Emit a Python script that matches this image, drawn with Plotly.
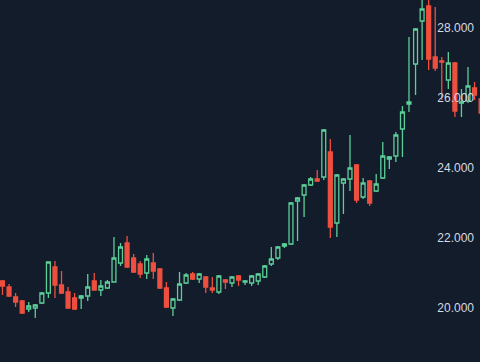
import plotly.graph_objects as go

# OHLC values
opens = [20.771, 20.600, 20.314, 20.200, 19.971, 20.000, 20.143, 20.429, 21.171, 20.657,
         20.457, 20.286, 20.286, 20.343, 20.771, 20.514, 20.571, 20.743, 21.286, 21.857,
         21.429, 21.257, 21.000, 21.286, 21.114, 20.571, 20.000, 20.229, 20.714, 20.971,
         20.829, 20.886, 20.571, 20.457, 20.800, 20.714, 20.914, 20.743, 20.714, 20.771,
         20.886, 21.257, 21.429, 21.771, 21.829, 23.057, 23.229, 23.514, 23.686, 23.743,
         24.457, 22.429, 23.571, 23.686, 24.086, 23.171, 23.629, 23.343, 23.714, 24.257,
         24.343, 25.114, 25.829, 26.971, 28.200, 28.629, 27.171, 27.057, 26.514, 27.000,
         25.857, 25.914, 26.286, 25.971]
highs = [20.800, 20.686, 20.429, 20.229, 20.171, 20.114, 20.457, 21.330, 21.343, 21.057,
         20.600, 20.429, 20.371, 20.971, 21.000, 20.800, 20.800, 22.029, 21.857, 22.057,
         21.543, 21.343, 21.514, 21.571, 21.143, 20.743, 20.286, 21.029, 21.000, 21.029,
         21.000, 20.914, 20.886, 20.943, 20.829, 20.914, 20.943, 20.800, 20.943, 21.000,
         21.229, 21.743, 21.771, 21.857, 23.029, 23.171, 23.543, 23.743, 23.943, 25.114,
         24.829, 23.829, 23.714, 24.943, 24.114, 23.714, 23.657, 23.829, 24.743, 24.343,
         25.029, 25.771, 27.743, 28.000, 28.943, 28.943, 28.600, 27.171, 27.314, 27.029,
         26.257, 26.886, 26.457, 26.029]
lows = [20.371, 20.314, 20.029, 19.829, 19.886, 19.714, 20.114, 20.286, 20.286, 20.400,
        19.971, 19.943, 19.971, 20.200, 20.514, 20.343, 20.543, 20.743, 21.200, 21.143,
        21.000, 20.857, 20.829, 20.829, 20.543, 20.000, 19.771, 20.200, 20.686, 20.800,
        20.714, 20.429, 20.429, 20.400, 20.543, 20.600, 20.629, 20.657, 20.629, 20.657,
        20.857, 21.200, 21.371, 21.714, 21.800, 21.914, 22.600, 23.486, 23.600, 23.657,
        22.000, 22.029, 22.686, 23.343, 23.000, 23.114, 22.914, 23.314, 23.686, 23.971,
        24.171, 24.314, 25.600, 26.086, 27.086, 26.800, 26.771, 25.943, 26.257, 25.457,
        25.457, 25.857, 25.943, 25.543]
closes = [20.629, 20.343, 20.171, 19.857, 20.057, 20.086, 20.429, 21.314, 20.657, 20.429,
          20.000, 19.971, 20.343, 20.600, 20.514, 20.629, 20.743, 21.429, 21.743, 21.171,
          21.029, 20.971, 21.400, 21.057, 20.571, 20.029, 20.257, 20.686, 20.943, 20.829,
          20.971, 20.600, 20.514, 20.914, 20.743, 20.886, 20.800, 20.771, 20.914, 20.971,
          21.200, 21.400, 21.743, 21.829, 23.000, 23.143, 23.514, 23.686, 23.629, 25.086,
          22.314, 23.800, 23.686, 24.000, 23.086, 23.571, 23.000, 23.543, 24.343, 24.314,
          24.943, 25.600, 25.886, 27.971, 28.543, 27.114, 26.857, 27.029, 27.000, 25.629,
          25.886, 26.343, 26.086, 25.571]
bar_index = list(range(len(opens)))
tick_values = [20, 22, 24, 26, 28]
tick_labels = ["20.000", "22.000", "24.000", "26.000", "28.000"]

BG = "#131c2b"
GREEN = "#5ccf98"
RED = "#ef4f3f"

fig = go.Figure(go.Candlestick(
    x=bar_index, open=opens, high=highs, low=lows, close=closes,
    increasing=dict(line=dict(color=GREEN, width=1.3), fillcolor=BG),
    decreasing=dict(line=dict(color=RED, width=1.3), fillcolor=RED),
    whiskerwidth=0, showlegend=False, hoverinfo="skip",
))

fig.update_layout(
    width=480, height=362,
    margin=dict(l=0, r=0, t=0, b=0),
    paper_bgcolor=BG, plot_bgcolor=BG,
    boxgap=0.15,
    xaxis=dict(range=[-0.381, 72.83], showgrid=False, zeroline=False,
               showticklabels=False, rangeslider=dict(visible=False), showline=False),
    yaxis=dict(range=[18.457, 28.8], side="right", ticklabelposition="inside",
               tickvals=tick_values, ticktext=tick_labels, showgrid=False,
               zeroline=False, showline=False, ticks="", ticklabelstandoff=3,
               tickfont=dict(family="Liberation Sans", size=12, color="#d6dae1")),
    font=dict(family="Liberation Sans"),
)

fig.write_html(
    "out.html",
    config={"displayModeBar": False},
    post_script="document.body.style.margin='0';document.body.style.background='%s';" % BG,
)
